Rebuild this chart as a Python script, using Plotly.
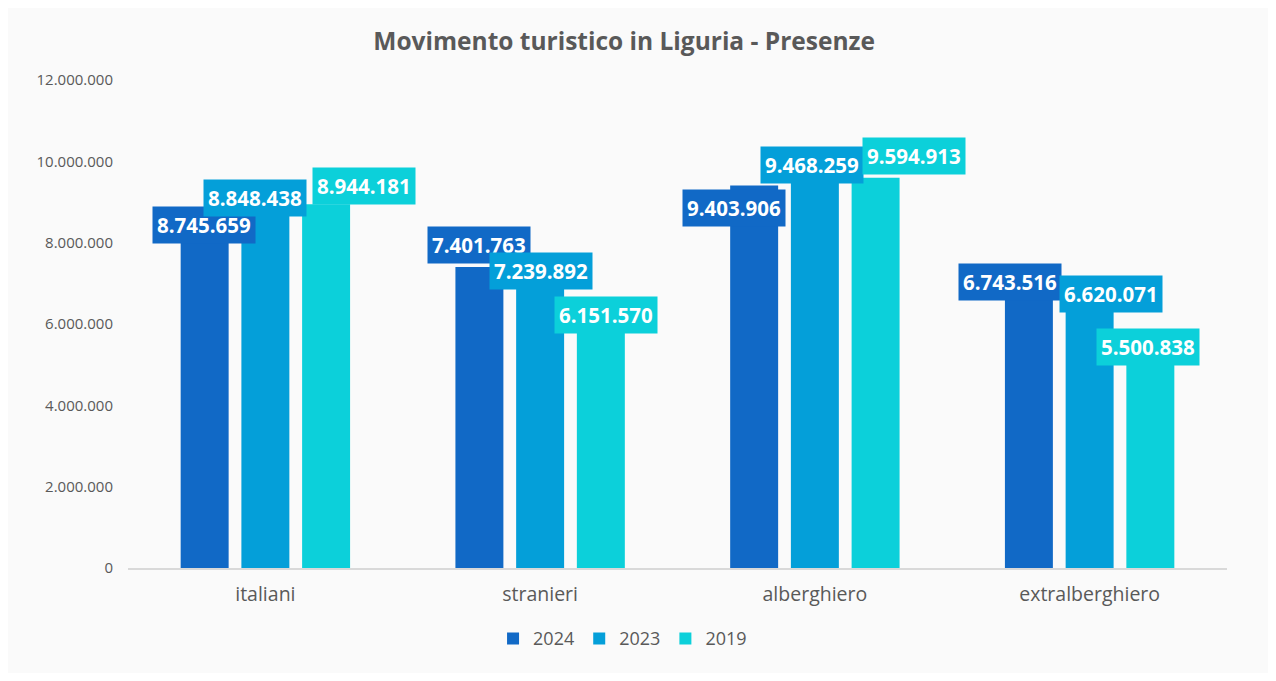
import plotly.graph_objects as go

categories = ["italiani", "stranieri", "alberghiero", "extralberghiero"]
years = ["2024", "2023", "2019"]
values_2024 = [8745659, 7401763, 9403906, 6743516]
values_2023 = [8848438, 7239892, 9468259, 6620071]
values_2019 = [8944181, 6151570, 9594913, 5500838]

colors = ["#1169C6", "#049FD9", "#0CD0DA"]
series = [values_2024, values_2023, values_2019]

# label nudges (px) so that boxes don't overlap, like the original
label_dx = [[0, 0, -20, -19], [-10, 1, -3, 21], [38, 5, 38, -3]]
label_dy = [[-13, 22, -22, 12], [10, 3, 18, 5], [18, 3, 22, -3]]
bar_step = 61

fig = go.Figure()

for name, vals, col in zip(years, series, colors):
    fig.add_trace(
        go.Bar(
            x=categories,
            y=vals,
            name=name,
            marker_color=col,
            marker_line_width=0,
        )
    )

# data labels with coloured boxes
for i, vals in enumerate(series):
    for j, cat in enumerate(categories):
        fig.add_annotation(
            x=cat,
            y=vals[j],
            text=f"{vals[j]:,}".replace(",", "."),
            showarrow=False,
            xshift=(i - 1) * bar_step + label_dx[i][j],
            yshift=label_dy[i][j],
            bgcolor=colors[i],
            borderpad=4,
            font=dict(family="Open Sans", size=20.5, color="white", weight="bold"),
        )

fig.update_xaxes(
    showgrid=False,
    showline=True,
    linecolor="#d9d9d9",
    linewidth=1.5,
    ticks="",
    ticklabelstandoff=8,
    tickfont=dict(family="Open Sans", size=19.5, color="#595959"),
    fixedrange=True,
)

fig.update_yaxes(
    range=[0, 12000000],
    dtick=2000000,
    tickformat=",d",
    showgrid=False,
    zeroline=False,
    showline=False,
    ticklabelstandoff=14,
    tickfont=dict(family="Open Sans", size=15, color="#595959"),
    fixedrange=True,
)

fig.update_layout(
    title=dict(
        text="Movimento turistico in Liguria - Presenze",
        x=0.489,
        xanchor="center",
        xref="container",
        y=0.949,
        yanchor="middle",
        yref="container",
        font=dict(family="Open Sans", size=24.5, color="#595959", weight="bold"),
    ),
    separators=",.",
    barmode="group",
    bargap=0.337,
    bargroupgap=0.21,
    legend=dict(
        orientation="h",
        x=0.45,
        xanchor="center",
        y=-0.145,
        yanchor="middle",
        font=dict(family="Open Sans", size=18, color="#595959"),
        itemwidth=30,
    ),
    autosize=False,
    width=1260,
    height=665,
    margin=dict(l=120, r=41, t=72, b=105),
    plot_bgcolor="#fafafa",
    paper_bgcolor="#fafafa",
)

fig.write_html("out.html")
